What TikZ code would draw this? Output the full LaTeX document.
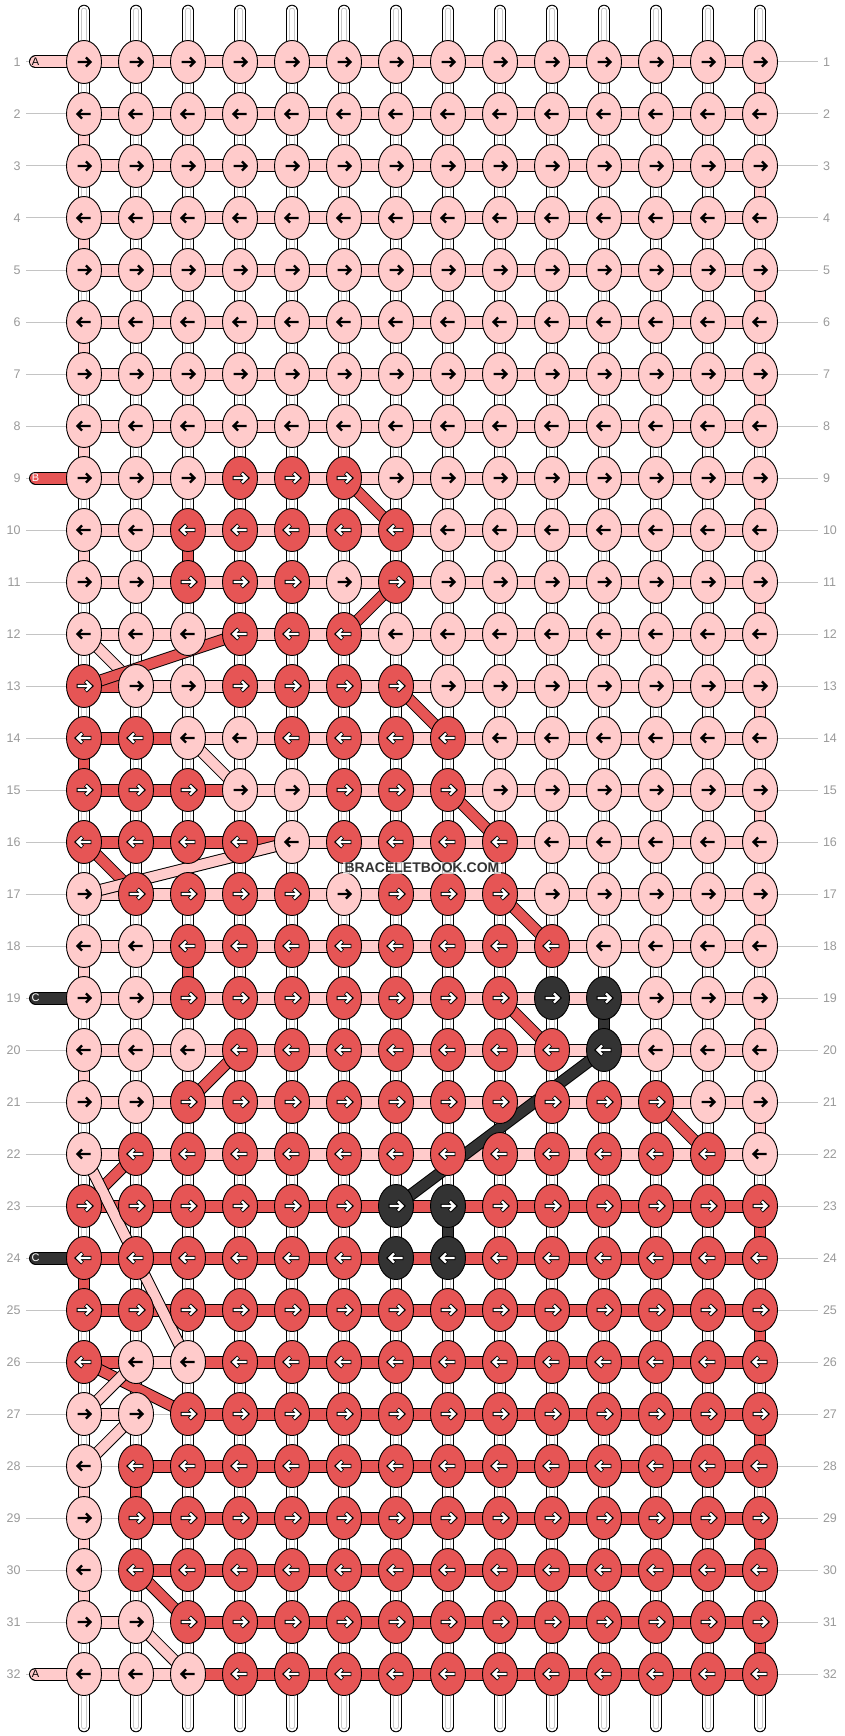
\documentclass[tikz,border=0pt]{standalone}
\usepackage{fontspec}
\setmainfont{Liberation Sans}
\usetikzlibrary{shapes.geometric}
\definecolor{cP}{HTML}{FFCBCB}
\definecolor{cR}{HTML}{E65555}
\definecolor{cD}{HTML}{333333}
\definecolor{guide}{HTML}{C4C4C4}
\definecolor{numc}{HTML}{9A9A9A}
\definecolor{strg}{HTML}{C8C8C8}
\pgfdeclarelayer{guides}
\pgfdeclarelayer{strings}
\pgfdeclarelayer{bars}
\pgfdeclarelayer{diags}
\pgfsetlayers{guides,strings,bars,diags,main}
\tikzset{
  knot/.style={ellipse, draw=black, line width=0.9pt, minimum width=35pt, minimum height=43pt, inner sep=0pt, outer sep=0pt},
  rownum/.style={font=\fontsize{12.5}{12.5}\selectfont, text=numc, inner sep=0pt, outer sep=0pt},
  guideline/.style={draw=guide, line width=1pt},
  barout/.style={line width=13pt, draw=black},
  barin/.style={line width=11pt},
  vout/.style={line width=11.5pt, draw=black},
  vin/.style={line width=9.5pt},
  dout/.style={line width=12pt, draw=black},
  din/.style={line width=10pt},
  stublabel/.style={font=\fontsize{11}{11}\selectfont, inner sep=0pt},
  arrowpath/.style={line join=miter, line cap=butt},
  watermark/.style={font=\bfseries\fontsize{14}{14}\selectfont, text=cD, fill=white, fill opacity=0.7, text opacity=1, inner sep=1.5pt}
}
\newcommand\knotarrowdark[2]{%
  \begin{scope}[shift={(#1.center)}, xscale=#2]
    \draw[arrowpath, line width=2.3pt, black] (-6.5,0)--(6.2,0) (1.9,-4.6)--(6.5,0)--(1.9,4.6);
  \end{scope}}
\newcommand\knotarrowlight[2]{%
  \begin{scope}[shift={(#1.center)}, xscale=#2]
    \draw[arrowpath, line width=4.1pt, black] (-7.4,0)--(6.2,0) (1.5,-5.0)--(6.9,0)--(1.5,5.0);
    \draw[arrowpath, line width=2.3pt, white] (-6.5,0)--(6.2,0) (1.9,-4.6)--(6.5,0)--(1.9,4.6);
  \end{scope}}
\def\rowdata{%
1/{P,P,P,P,P,P,P,P,P,P,P,P,P,P}/{P,P,P,P,P,P,P,P,P,P,P,P,P},
2/{P,P,P,P,P,P,P,P,P,P,P,P,P,P}/{P,P,P,P,P,P,P,P,P,P,P,P,P},
3/{P,P,P,P,P,P,P,P,P,P,P,P,P,P}/{P,P,P,P,P,P,P,P,P,P,P,P,P},
4/{P,P,P,P,P,P,P,P,P,P,P,P,P,P}/{P,P,P,P,P,P,P,P,P,P,P,P,P},
5/{P,P,P,P,P,P,P,P,P,P,P,P,P,P}/{P,P,P,P,P,P,P,P,P,P,P,P,P},
6/{P,P,P,P,P,P,P,P,P,P,P,P,P,P}/{P,P,P,P,P,P,P,P,P,P,P,P,P},
7/{P,P,P,P,P,P,P,P,P,P,P,P,P,P}/{P,P,P,P,P,P,P,P,P,P,P,P,P},
8/{P,P,P,P,P,P,P,P,P,P,P,P,P,P}/{P,P,P,P,P,P,P,P,P,P,P,P,P},
9/{P,P,P,R,R,R,P,P,P,P,P,P,P,P}/{P,P,P,P,P,P,P,P,P,P,P,P,P},
10/{P,P,R,R,R,R,R,P,P,P,P,P,P,P}/{P,P,P,P,P,P,P,P,P,P,P,P,P},
11/{P,P,R,R,R,P,R,P,P,P,P,P,P,P}/{P,P,P,P,P,P,P,P,P,P,P,P,P},
12/{P,P,P,R,R,R,P,P,P,P,P,P,P,P}/{P,P,P,P,P,P,P,P,P,P,P,P,P},
13/{R,P,P,R,R,R,R,P,P,P,P,P,P,P}/{R,P,P,P,P,P,P,P,P,P,P,P,P},
14/{R,R,P,P,R,R,R,R,P,P,P,P,P,P}/{R,R,P,P,P,P,P,P,P,P,P,P,P},
15/{R,R,R,P,P,R,R,R,P,P,P,P,P,P}/{R,R,R,P,P,P,P,P,P,P,P,P,P},
16/{R,R,R,R,P,R,R,R,R,P,P,P,P,P}/{R,R,R,R,P,P,P,P,P,P,P,P,P},
17/{P,R,R,R,R,P,R,R,R,P,P,P,P,P}/{P,P,P,P,P,P,P,P,P,P,P,P,P},
18/{P,P,R,R,R,R,R,R,R,R,P,P,P,P}/{P,P,P,P,P,P,P,P,P,P,P,P,P},
19/{P,P,R,R,R,R,R,R,R,D,D,P,P,P}/{P,P,P,P,P,P,P,P,P,P,P,P,P},
20/{P,P,P,R,R,R,R,R,R,R,D,P,P,P}/{P,P,P,P,P,P,P,P,P,P,P,P,P},
21/{P,P,R,R,R,R,R,R,R,R,R,R,P,P}/{P,P,P,P,P,P,P,P,P,P,P,P,P},
22/{P,R,R,R,R,R,R,R,R,R,R,R,R,P}/{P,P,P,P,P,P,P,P,P,P,P,P,P},
23/{R,R,R,R,R,R,D,D,R,R,R,R,R,R}/{R,R,R,R,R,R,R,R,R,R,R,R,R},
24/{R,R,R,R,R,R,D,D,R,R,R,R,R,R}/{R,R,R,R,R,R,R,R,R,R,R,R,R},
25/{R,R,R,R,R,R,R,R,R,R,R,R,R,R}/{R,R,R,R,R,R,R,R,R,R,R,R,R},
26/{R,P,P,R,R,R,R,R,R,R,R,R,R,R}/{R,P,R,R,R,R,R,R,R,R,R,R,R},
27/{P,P,R,R,R,R,R,R,R,R,R,R,R,R}/{P,N,R,R,R,R,R,R,R,R,R,R,R},
28/{P,R,R,R,R,R,R,R,R,R,R,R,R,R}/{N,R,R,R,R,R,R,R,R,R,R,R,R},
29/{P,R,R,R,R,R,R,R,R,R,R,R,R,R}/{N,R,R,R,R,R,R,R,R,R,R,R,R},
30/{P,R,R,R,R,R,R,R,R,R,R,R,R,R}/{N,R,R,R,R,R,R,R,R,R,R,R,R},
31/{P,P,R,R,R,R,R,R,R,R,R,R,R,R}/{P,N,R,R,R,R,R,R,R,R,R,R,R},
32/{P,P,P,R,R,R,R,R,R,R,R,R,R,R}/{P,P,R,R,R,R,R,R,R,R,R,R,R}}
\begin{document}
\begin{tikzpicture}[x=1pt,y=-1pt]
\useasboundingbox (0,0) rectangle (844,1736);
% knots, arrows and row numbers
\foreach \r/\kl/\bl in \rowdata {
  \pgfmathsetmacro\yy{62+52*(\r-1)}
  \pgfmathtruncatemacro\dir{ifthenelse(mod(\r,2)==1,1,-1)}
  \node[rownum, anchor=east] (ln-\r) at (20.5,\yy) {\r};
  \node[rownum, anchor=west] (rn-\r) at (823,\yy) {\r};
  \foreach \k [count=\c] in \kl {
    \node[knot, fill=c\k] (k-\r-\c) at ({84+52*(\c-1)},\yy) {};
    \if\k P\knotarrowdark{k-\r-\c}{\dir}\else\knotarrowlight{k-\r-\c}{\dir}\fi
  }
}
% string labels at the left
\foreach \r/\lab/\col/\tc in {1/A/P/black,9/B/R/white,19/C/D/white,24/C/D/white,32/A/P/black}{
  \pgfmathsetmacro\yy{62+52*(\r-1)}
  \node[stublabel, text=\tc] (sl-\r) at (35.5,\yy) {\lab};
}
% top and bottom ends of the vertical strings
\foreach \c in {1,...,14}{
  \coordinate (st-\c) at ({84+52*(\c-1)},10.5);
  \coordinate (sb-\c) at ({84+52*(\c-1)},1726.5);
}
\begin{pgfonlayer}{guides}
  \fill[white] (0,0) rectangle (844,1736);
  \foreach \r in {1,...,32}{
    \draw[guideline] ([xshift=5.5pt]ln-\r.east) -- ([xshift=-5pt]rn-\r.west);
  }
\end{pgfonlayer}
\begin{pgfonlayer}{strings}
  \foreach \c in {1,...,14}{
    \draw[line width=11.5pt, black, line cap=round] (st-\c) -- (sb-\c);
    \draw[line width=9.5pt, white, line cap=round] (st-\c) -- (sb-\c);
    \draw[line width=5.5pt, strg, line cap=round] (st-\c) -- (sb-\c);
    \draw[line width=3.5pt, white, line cap=round] (st-\c) -- (sb-\c);
  }
\end{pgfonlayer}
\begin{pgfonlayer}{bars}
  % horizontal carries
  \foreach \r/\kl/\bl in \rowdata {
    \foreach \b [count=\c] in \bl {
      \pgfmathtruncatemacro\cn{\c+1}
      \if\b N\else
        \draw[barout] (k-\r-\c.center) -- (k-\r-\cn.center);
        \draw[barin, draw=c\b] (k-\r-\c.center) -- (k-\r-\cn.center);
      \fi
    }
  }
  % turns at the row ends
  \foreach \r/\c/\col in {1/14/P,3/14/P,5/14/P,7/14/P,9/14/P,11/14/P,13/14/P,15/14/P,17/14/P,19/14/P,21/14/P,
      2/1/P,4/1/P,6/1/P,8/1/P,10/1/P,18/1/P,20/1/P,28/1/P,29/1/P,30/1/P,
      10/3/R,14/1/R,18/3/R,23/14/R,24/1/R,25/14/R,27/14/R,28/2/R,29/14/R,31/14/R,
      19/11/D,23/8/D}{
    \pgfmathtruncatemacro\rn{\r+1}
    \draw[vout] (k-\r-\c.center) -- (k-\rn-\c.center);
    \draw[vin, draw=c\col] (k-\r-\c.center) -- (k-\rn-\c.center);
  }
  % string ends at the left
  \foreach \r/\lab/\col/\tc in {1/A/P/black,9/B/R/white,19/C/D/white,24/C/D/white,32/A/P/black}{
    \draw[barout, line cap=round] (sl-\r.center) -- (k-\r-1.center);
    \draw[barin, draw=c\col, line cap=round] (sl-\r.center) -- (k-\r-1.center);
  }
\end{pgfonlayer}
\begin{pgfonlayer}{diags}
  \foreach \ra/\ca/\rb/\cb/\col in {12/1/13/2/P,
      9/6/10/7/R,11/7/12/6/R,12/4/13/1/R,13/7/14/8/R,15/8/16/9/R,16/1/17/2/R,17/9/18/10/R,
      19/9/20/10/R,20/4/21/3/R,21/12/22/13/R,22/2/23/1/R,26/1/27/3/R,30/2/31/3/R,
      20/11/23/7/D,
      14/3/15/4/P,16/5/17/1/P,22/1/26/3/P,26/2/27/1/P,27/2/28/1/P,31/2/32/3/P}{
    \draw[dout] (k-\ra-\ca.center) -- (k-\rb-\cb.center);
    \draw[din, draw=c\col] (k-\ra-\ca.center) -- (k-\rb-\cb.center);
  }
\end{pgfonlayer}
\node[watermark] (wm) at (422,868) {BRACELETBOOK.COM};
\end{tikzpicture}
\end{document}
